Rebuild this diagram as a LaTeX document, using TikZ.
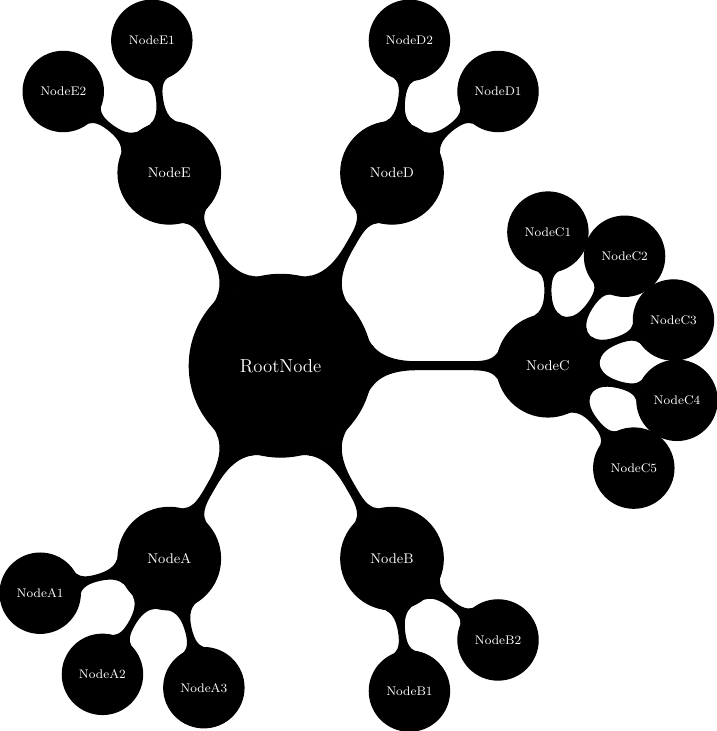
\documentclass[tikz,border=0pt]{standalone}
\usetikzlibrary{mindmap, calc, backgrounds}

\begin{document}
\begin{tikzpicture}[
	% Concept styles
	bubble/.style={circle, fill=black, draw=black, line width=0.8pt, outer sep=0pt, text=white, inner sep=0pt, align=center},
	root bubble/.style={bubble, minimum size=4.1cm, font=\large},
	lvl1/.style={bubble, minimum size=2.3cm, font=\small},
	lvl2/.style={bubble, minimum size=1.8cm, font=\footnotesize},
	% Connection bars
	link/.style={circle connection bar switch color=from (black) to (black)},
	bar1/.style={line width=6.4pt},
	bar2/.style={line width=5pt}
	]
	\useasboundingbox (-6.3,-8.2) rectangle (9.78,8.21);
	
	% ==============================================================================
	% ROOT AND FIRST LEVEL
	% ==============================================================================
	\node[root bubble] (root) at (0,0) {RootNode};
	
	\node[lvl1] (nodeA) at (240:5) {NodeA};
	\node[lvl1] (nodeB) at (300:5) {NodeB};
	\node[lvl1] (nodeC) at (0:6) {NodeC};
	\node[lvl1] (nodeD) at (60:5) {NodeD};
	\node[lvl1] (nodeE) at (120:5) {NodeE};
	
	% ==============================================================================
	% SECOND LEVEL
	% ==============================================================================
	% children of A
	\node[lvl2] (nodeA1) at ($(nodeA)+(195:3)$) {NodeA1};
	\node[lvl2] (nodeA2) at ($(nodeA)+(240:3)$) {NodeA2};
	\node[lvl2] (nodeA3) at ($(nodeA)+(285:3)$) {NodeA3};
	
	% children of B
	\node[lvl2] (nodeB1) at ($(nodeB)+(277.5:3)$) {NodeB1};
	\node[lvl2] (nodeB2) at ($(nodeB)+(322.5:3)$) {NodeB2};
	
	% children of C
	\node[lvl2] (nodeC1) at ($(nodeC)+(90:3)$) {NodeC1};
	\node[lvl2] (nodeC2) at ($(nodeC)+(55:3)$) {NodeC2};
	\node[lvl2] (nodeC3) at ($(nodeC)+(20:3)$) {NodeC3};
	\node[lvl2] (nodeC4) at ($(nodeC)+(-15:3)$) {NodeC4};
	\node[lvl2] (nodeC5) at ($(nodeC)+(-50:3)$) {NodeC5};
	
	% children of D
	\node[lvl2] (nodeD1) at ($(nodeD)+(37.5:3)$) {NodeD1};
	\node[lvl2] (nodeD2) at ($(nodeD)+(82.5:3)$) {NodeD2};
	
	% children of E
	\node[lvl2] (nodeE1) at ($(nodeE)+(97.5:3)$) {NodeE1};
	\node[lvl2] (nodeE2) at ($(nodeE)+(142.5:3)$) {NodeE2};
	
	% ==============================================================================
	% CONNECTION BARS
	% ==============================================================================
	\begin{scope}[on background layer]
		\path[bar1] (root) to[link] (nodeA);
		\path[bar1] (root) to[link] (nodeB);
		\path[bar1] (root) to[link] (nodeC);
		\path[bar1] (root) to[link] (nodeD);
		\path[bar1] (root) to[link] (nodeE);
		
		\path[bar2] (nodeA) to[link] (nodeA1);
		\path[bar2] (nodeA) to[link] (nodeA2);
		\path[bar2] (nodeA) to[link] (nodeA3);
		\path[bar2] (nodeB) to[link] (nodeB1);
		\path[bar2] (nodeB) to[link] (nodeB2);
		\path[bar2] (nodeC) to[link] (nodeC1);
		\path[bar2] (nodeC) to[link] (nodeC2);
		\path[bar2] (nodeC) to[link] (nodeC3);
		\path[bar2] (nodeC) to[link] (nodeC4);
		\path[bar2] (nodeC) to[link] (nodeC5);
		\path[bar2] (nodeD) to[link] (nodeD1);
		\path[bar2] (nodeD) to[link] (nodeD2);
		\path[bar2] (nodeE) to[link] (nodeE1);
		\path[bar2] (nodeE) to[link] (nodeE2);
	\end{scope}
	
\end{tikzpicture}
\end{document}
